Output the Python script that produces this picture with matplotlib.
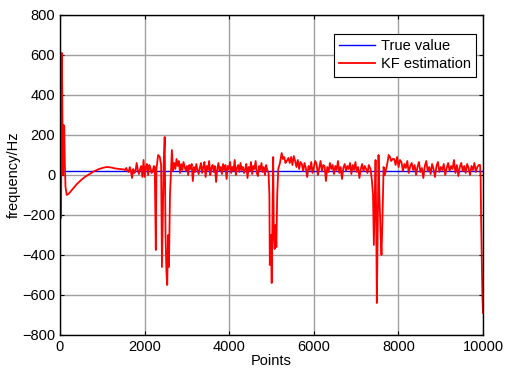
"""KF frequency estimate vs true value (MATLAB-style figure)."""
import matplotlib
matplotlib.use("Agg")
import matplotlib.pyplot as plt
import numpy as np

plt.rcParams["font.family"] = ["Liberation Sans", "DejaVu Sans"]

TRUE_VALUE = 20
X_MAX = 10000

# start-up transient (explicit points)
start_x = [0, 25, 45, 60, 70, 85, 100, 115, 130, 160, 200, 300, 400,
           500, 600, 700, 800, 900, 1000, 1100, 1200, 1300, 1400, 1500]
start_y = [0, -215, 610, 200, 0, 250, 240, 50, -60, -100, -95,
           -70, -45, -25, -8, 5, 18, 28, 35, 40, 38, 33, 30, 28]

noise1_y = [25, 35, 20, 15, 40, 20, -15, 30, 10, 20, 60, 25, 5, 30, 45, -10, 75,
            -10, 40, 55, 0, 50, 35, 10, 20, 45]

burst1_x = [2240, 2265, 2280, 2320, 2360, 2390, 2410, 2430, 2450, 2475, 2495, 2515,
            2535, 2555, 2575, 2600, 2620, 2645, 2670]
burst1_y = [40, -375, 30, 100, 90, 50, -460, -200, 50, 190, -300, -480,
            -550, -300, -460, -100, 0, 125, 20]

noise2_y = [60, 30, 80, 45, 70, 10, 55, 25, 65, 40, 20, 45, 0, 50, 30, 55, -30, 40,
            15, 55, 25, 5, 35, 60, 10, 40, 65, -10, 45, 25, 70, 0, 35, 50, 15, 45,
            -35, 30, 60, 20, 40, 5, 55, 25, 50, -20, 45, 30, 65, 10, 40, 20, 75, 0,
            35, 50, 15, 60, 25, 40, 10, 30, 55, -15, 40, 20, 65, 5, 45, 30, 70, 10,
            -5, 45, 25, 60, 15, 40, 0, 50, 25]

burst2_x = [4930, 4950, 4960, 4985, 5005, 5025, 5040, 5055, 5075, 5095, 5115, 5135,
            5160, 5200, 5240, 5270, 5300, 5330, 5360]
burst2_y = [10, -100, -450, -300, -540, -200, 90, -300, -370, -250, -360, -100,
            30, 60, 110, 80, 90, 60, 70]

noise3_y = [85, 60, 90, 50, 95, 70, 40, 75, 30, 65, 55, 20, 60, 35, -10, 45, 25, 65,
            10, 40, 70, 55, 0, 35, 70, 20, 50, 45, -30, 40, 15, 60, 30, 50, 5, 45, 25,
            70, 10, 40, -20, 35, 55, 20, 45, 30, 60, 5, 50, 25, 65, 15, 40, -15, 30,
            55, 20, 45, 30, 10, 50]

burst3_x = [7340, 7370, 7400, 7420, 7440, 7460, 7475, 7490, 7510, 7530, 7550, 7580,
            7600, 7620, 7650, 7680, 7710, 7740, 7770, 7800, 7830, 7860]
burst3_y = [30, -20, -100, -350, -150, 75, -200, -640, -300, 100, -100, -300,
            -400, -250, 40, 0, 30, 60, 100, 90, 70, 80]

noise4_y = [80, 50, 90, 40, 75, 65, 20, 55, 35, 70, 10, 45, 60, 25, 50, 0, 40, 65,
            15, 35, -15, 45, 70, 20, 40, 5, 55, 30, -10, 45, 65, 15, 40, 25, 55, 0,
            35, 60, 20, 45, 30, 75, 10, 50, -5, 40, 60, 20, 45, 10, 55, 35, 0, 45,
            25, 60, 15, 40, 50]

end_x = [9930, 9945, 9955, 9970, 9985, 10000]
end_y = [50, -20, -220, -400, -600, -690]

# assemble the estimate trace
kf_x = np.concatenate([
    start_x,
    np.linspace(1540, 2220, len(noise1_y)),
    burst1_x,
    np.linspace(2700, 4900, len(noise2_y)),
    burst2_x,
    np.linspace(5400, 7300, len(noise3_y)),
    burst3_x,
    np.linspace(7900, 9900, len(noise4_y)),
    end_x,
])
kf_y = np.concatenate([start_y, noise1_y, burst1_y, noise2_y, burst2_y,
                       noise3_y, burst3_y, noise4_y, end_y])

fig = plt.figure(figsize=(5.05, 3.74), dpi=100)
ax = fig.add_axes([60 / 505, 39 / 374, 423 / 505, 320 / 374])

ax.plot([0, X_MAX], [TRUE_VALUE, TRUE_VALUE], color="blue", lw=1.0, label="True value")
ax.plot(kf_x, kf_y, color="red", lw=1.3, label="KF estimation")

ax.set_xlim(0, X_MAX)
ax.set_ylim(-800, 800)
ax.set_xticks(np.arange(0, 10001, 2000))
ax.set_yticks(np.arange(-800, 801, 200))
ax.grid(True, color="#a0a0a0", lw=1.0)
ax.set_axisbelow(True)
ax.tick_params(direction="in", top=True, right=True, labelsize=10.5, length=3)
for s in ax.spines.values():
    s.set_linewidth(1.0)

ax.set_xlabel("Points", fontsize=10.5, labelpad=0)
ax.set_ylabel("frequency/Hz", fontsize=10.5, labelpad=1)

leg = ax.legend(loc="upper right", bbox_to_anchor=(416 / 423, 301 / 320),
                borderaxespad=0, fancybox=False, framealpha=1, fontsize=10.5,
                handlelength=2.5, handletextpad=0.4, borderpad=0.35, labelspacing=0.3)
leg.get_frame().set_edgecolor("black")
leg.get_frame().set_linewidth(0.8)

fig.savefig("out.png", dpi=100)
